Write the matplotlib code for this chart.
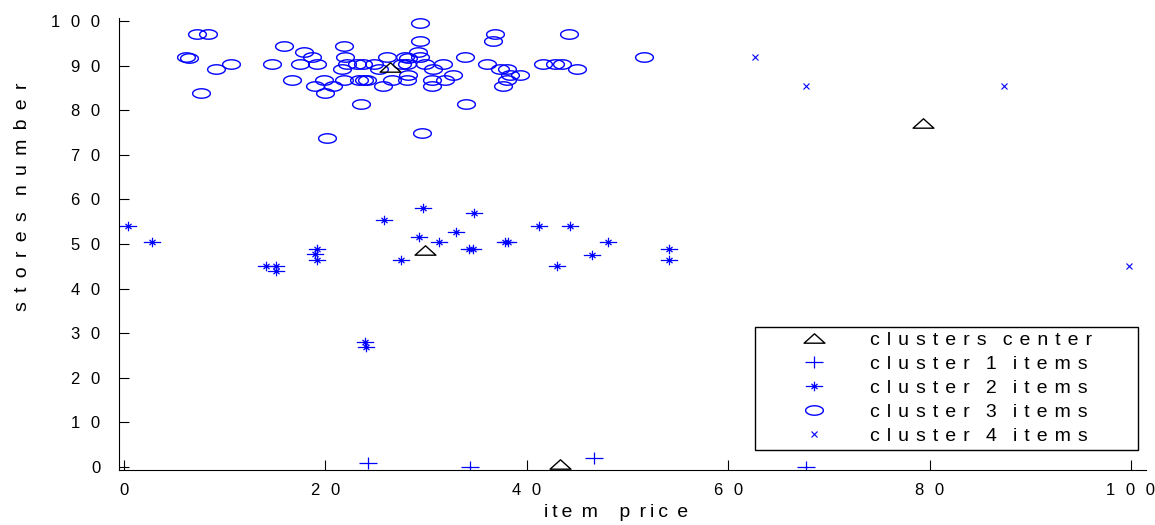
import numpy as np
import matplotlib
matplotlib.use("Agg")
import matplotlib.pyplot as plt
from matplotlib.path import Path

plt.rcParams['font.family'] = ['Liberation Sans', 'DejaVu Sans']

# values
center_price = [43.3, 29.9, 26.4, 79.4]
center_stores = [0.7, 48.6, 89.8, 77.1]

c1_price = [24.2, 34.4, 46.7, 67.7]
c1_stores = [0.9, 0.0, 2.0, 0.0]

c2_price = [0.4, 2.8, 14.1, 15.1, 15.1, 19.2, 19.0, 19.2, 23.9, 24.0, 25.8, 27.5, 29.7, 34.8,
            29.3, 31.3, 33.0, 34.3, 34.7, 37.8, 38.1, 41.2, 44.3, 43.0, 46.5, 48.1, 54.1, 54.1]
c2_stores = [54.1, 50.4, 45.1, 45.1, 43.9, 48.8, 47.7, 46.5, 28.1, 27.0, 55.4, 46.4, 58.1, 56.9,
             51.6, 50.4, 52.8, 48.9, 48.9, 50.4, 50.4, 54.1, 54.1, 45.1, 47.6, 50.4, 48.9, 46.4]

c3_price = [6.2, 6.5, 7.2, 8.3, 9.1, 10.6, 7.6,
            15.9, 17.9, 18.7, 14.7, 17.5, 19.2, 16.7, 19.0, 19.9, 20.8, 20.0,
            21.8, 21.9, 22.1, 21.6, 21.8, 23.1, 23.7, 23.3, 23.8, 24.1, 23.5,
            24.8, 25.3, 26.1, 25.7, 26.6, 27.6, 28.1, 28.2, 28.2, 28.1,
            29.2, 29.4, 29.4, 29.4, 20.2, 29.6, 27.9, 29.9, 30.7, 31.7, 30.6, 30.6, 31.9,
            32.7, 33.9, 36.0, 34.0, 36.8, 36.6, 37.3, 38.0, 38.3, 39.3, 38.0, 37.6,
            41.6, 42.8, 43.5, 45.0, 44.2, 51.6]
c3_stores = [92.0, 91.8, 97.1, 97.1, 89.2, 90.4, 83.9,
             94.4, 93.1, 91.9, 90.4, 90.4, 90.4, 86.7, 85.4, 86.7, 85.4, 83.9,
             94.4, 91.9, 90.4, 89.2, 86.7, 90.4, 90.4, 86.7, 86.7, 86.7, 81.4,
             90.4, 89.2, 91.9, 85.4, 86.7, 90.4, 90.4, 91.6, 87.9, 86.7,
             93.1, 99.6, 95.6, 91.9, 73.7, 75.0, 91.9, 90.4, 89.2, 90.4, 86.7, 85.4, 86.7,
             87.9, 91.9, 90.4, 81.4, 97.1, 95.6, 89.2, 89.2, 87.9, 87.9, 86.7, 85.4,
             90.4, 90.4, 90.4, 89.2, 97.1, 91.9]

c4_price = [62.7, 67.7, 87.4, 99.8]
c4_stores = [91.9, 85.4, 85.4, 45.1]

# the original export spreads the characters out; hair/thin spaces imitate that
HS = "\u200a"
TS = "\u2009"
dg = "  " + HS  # gap between tick digits
x_ticks = [0, 20, 40, 60, 80, 100]
x_ticklabels = ["0", "2" + dg + "0", "4" + dg + "0", "6" + dg + "0", "8" + dg + "0",
                "1" + dg + "0" + dg + "0"]
y_ticks = [0, 10, 20, 30, 40, 50, 60, 70, 80, 90, 100]
y_ticklabels = ["0"] + [str(v // 10) + dg + "0" for v in y_ticks[1:-1]] + ["1" + dg + "0" + dg + "0"]


def spread(text, gap):
    words = text.split(" ")
    return "   ".join(gap.join(w) for w in words)


legend_labels = [spread("clusters center", " " + HS),
                 spread("cluster 1 items", " " + HS),
                 spread("cluster 2 items", " " + HS),
                 spread("cluster 3 items", " " + HS),
                 spread("cluster 4 items", " " + HS)]
x_label = "i" + TS + "t" + TS + "e " + TS + "m    p " + TS + "r" + TS + "i" + TS + "c " + TS + "e"
y_label = spread("stores number", " " + TS)

# MATLAB-like marker shapes (wide, flat)
L, M = Path.LINETO, Path.MOVETO
tri = Path([(-1, -0.45), (1, -0.45), (0, 0.45), (-1, -0.45)], closed=True)
plus = Path([(-1, 0), (1, 0), (0, -0.62), (0, 0.62)], [M, L, M, L])
star = Path([(-1, 0), (1, 0), (0, -0.55), (0, 0.55),
             (-0.35, -0.3), (0.35, 0.3), (-0.35, 0.3), (0.35, -0.3)],
            [M, L, M, L, M, L, M, L])
t = np.linspace(0, 2 * np.pi, 41)
oval = Path(np.column_stack([np.cos(t), 0.53 * np.sin(t)]))

fig = plt.figure(figsize=(11.55, 5.25), dpi=100)
ax = fig.add_axes([119 / 1155, 54.9 / 525, 1027 / 1155, 452.2 / 525])

ax.plot(center_price, center_stores, linestyle='none', marker=tri, markersize=15,
        markerfacecolor='none', markeredgecolor='black', markeredgewidth=1.0,
        label=legend_labels[0], zorder=5)
ax.plot(c1_price, c1_stores, linestyle='none', marker=plus, markersize=13,
        markeredgecolor='blue', markeredgewidth=0.9, label=legend_labels[1])
ax.plot(c2_price, c2_stores, linestyle='none', marker=star, markersize=12.5,
        markeredgecolor='blue', markeredgewidth=0.9, label=legend_labels[2])
ax.plot(c3_price, c3_stores, linestyle='none', marker=oval, markersize=12.8,
        markerfacecolor='none', markeredgecolor='blue', markeredgewidth=1.0,
        label=legend_labels[3])
ax.plot(c4_price, c4_stores, linestyle='none', marker='x', markersize=4.5,
        markeredgecolor='blue', markeredgewidth=0.8, label=legend_labels[4])

ax.set_xlim(-0.5, 101.5)
ax.set_ylim(-0.7, 100.7)
ax.set_xticks(x_ticks, x_ticklabels)
ax.set_yticks(y_ticks, y_ticklabels)
ax.tick_params(direction='in', length=7.5, width=0.8, labelsize=12, colors='black')
ax.tick_params(axis='y', pad=13.5)
ax.tick_params(axis='x', pad=9)
ax.spines['top'].set_visible(False)
ax.spines['right'].set_visible(False)
for s in ['left', 'bottom']:
    ax.spines[s].set_linewidth(0.8)

ax.set_xlabel(x_label, fontsize=14)
ax.set_ylabel(y_label, fontsize=14)
ax.xaxis.set_label_coords(0.484, -0.075)
ax.yaxis.set_label_coords(-0.086, 0.604)

leg = ax.legend(loc='lower left', mode='expand',
                bbox_to_anchor=(755 / 1155, 75 / 525, 383 / 1155, 0),
                bbox_transform=fig.transFigure, fontsize=14, fancybox=False,
                edgecolor='black', framealpha=1, borderpad=0.25, borderaxespad=0,
                handlelength=5.55, handletextpad=0.1, labelspacing=0.33, numpoints=1)
leg.get_frame().set_linewidth(1.0)

fig.savefig("out.png", dpi=100)
